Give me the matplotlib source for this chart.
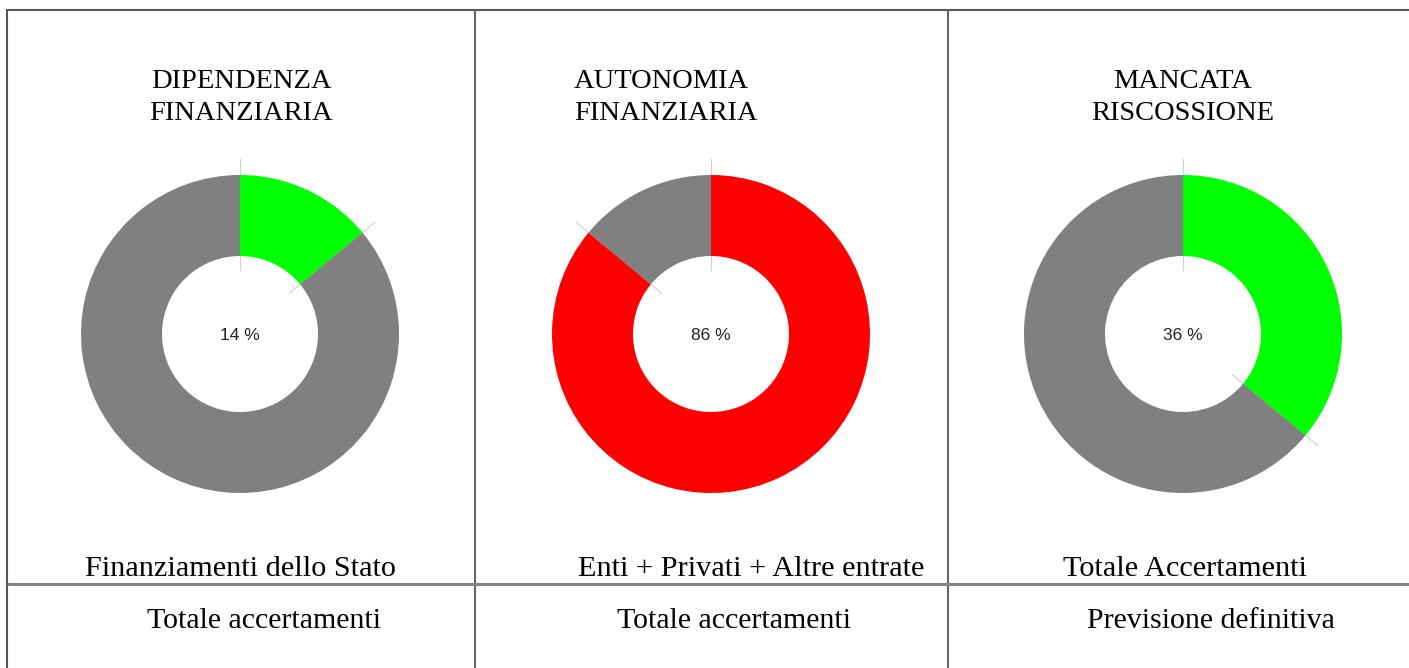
import numpy as np
import matplotlib
matplotlib.use("Agg")
import matplotlib.pyplot as plt

# data
titles = [["DIPENDENZA", "FINANZIARIA"],
          ["AUTONOMIA", "FINANZIARIA"],
          ["MANCATA", "RISCOSSIONE"]]
shares = [14, 86, 36]
numerators = ["Finanziamenti dello Stato", "Enti + Privati + Altre entrate", "Totale Accertamenti"]
denominators = ["Totale accertamenti", "Totale accertamenti", "Previsione definitiva"]
slice_colors = ["#00ff00", "#ff0000", "#00ff00"]

W, H = 1409, 668
fig = plt.figure(figsize=(W / 100, H / 100), dpi=100)

# table grid drawn in pixel space
bg = fig.add_axes([0, 0, 1, 1])
bg.set_xlim(0, W)
bg.set_ylim(H, 0)
bg.axis("off")
bg.plot([7, W], [10, 10], color="#555555", lw=1.5, solid_capstyle="butt")
bg.plot([7, 7], [9, H], color="#555555", lw=1.5, solid_capstyle="butt")
for xd in [475, 948]:
    bg.plot([xd, xd], [9, H], color="#666666", lw=1.5, solid_capstyle="butt")
bg.plot([7, W], [584, 584], color="#858585", lw=2.2, solid_capstyle="butt")

centers = [240, 711, 1183]
cy = 334
R = 159          # outer radius, px
box = 185        # half size of each pie axes, px
serif = "Liberation Serif"

for i, cx in enumerate(centers):
    ax = fig.add_axes([(cx - box) / W, (H - cy - box) / H, 2 * box / W, 2 * box / H])
    p = shares[i]
    ax.pie([p, 100 - p], colors=[slice_colors[i], "#808080"], startangle=90,
           counterclock=False, radius=1,
           wedgeprops=dict(width=81 / R, edgecolor="none", zorder=2))
    lim = box / R
    ax.set_xlim(-lim, lim)
    ax.set_ylim(-lim, lim)
    ax.set_aspect("equal")
    ax.axis("off")
    # faint boundary ticks
    for ang in [90, 90 - 360 * p / 100]:
        t = np.deg2rad(ang)
        r = np.array([64, 175]) / R
        ax.plot(r * np.cos(t), r * np.sin(t), color="#d0d0d0", lw=0.8, zorder=1)
    ax.text(0, -0.012, f"{p} %", ha="center", va="center", fontsize=12.5,
            family="Liberation Sans", color="#222222")

# titles
title_x = [(241, "center"), (574, "left"), (1183, "center")]
for (tx, ha), lines in zip(title_x, titles):
    bg.text(tx, 88, lines[0], ha=ha, va="baseline", fontsize=20.5, family=serif)
    bg.text(tx, 120, lines[1], ha=ha, va="baseline", fontsize=20.5, family=serif)

num_x = [85, 578, 1063]
den_x = [147, 617, 1087]
for i in range(3):
    bg.text(num_x[i], 576, numerators[i], ha="left", va="baseline", fontsize=21.8, family=serif)
    bg.text(den_x[i], 628, denominators[i], ha="left", va="baseline", fontsize=21.5, family=serif)

fig.savefig("out.png", dpi=100)
